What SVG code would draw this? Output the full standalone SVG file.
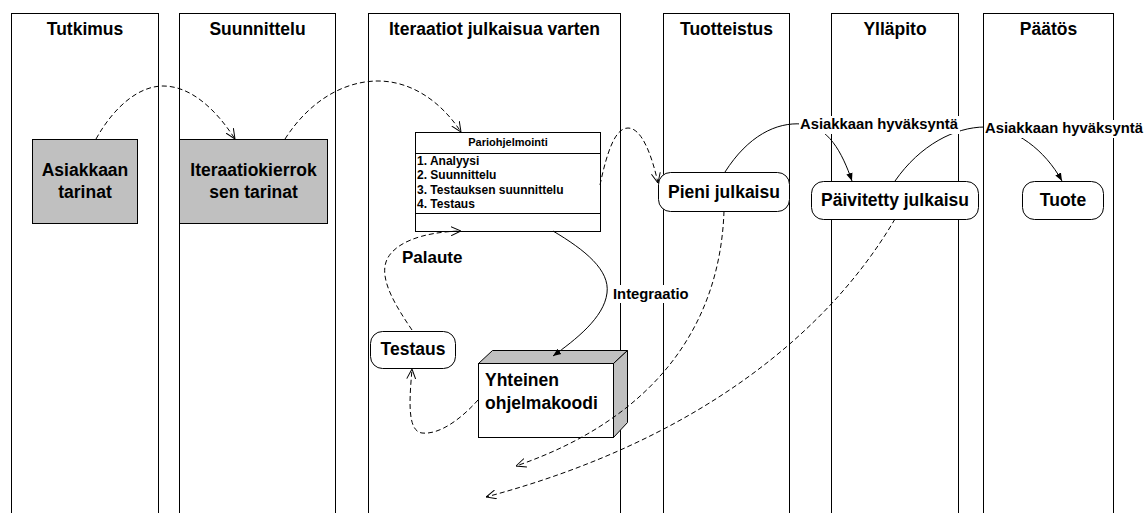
<svg xmlns="http://www.w3.org/2000/svg" width="1145" height="513" viewBox="0 0 1145 513">
  <style>
    text { font-family: "Liberation Sans", Arial, sans-serif; font-weight: bold; fill: #000; }
    .lane { fill: #fff; stroke: #000; stroke-width: 1; }
    .hdr { font-size: 17.5px; text-anchor: middle; }
    .node { font-size: 17.5px; text-anchor: middle; }
    .left { text-anchor: start; }
    .box { stroke: #000; stroke-width: 1; }
    .gray { fill: #c0c0c0; }
    .white { fill: #fff; }
    .dash { fill: none; stroke: #000; stroke-width: 1; stroke-dasharray: 5 3; marker-end: url(#open); }
    .solid { fill: none; stroke: #000; stroke-width: 1; marker-end: url(#filled); }
    .lbl { font-size: 14.8px; }
    .lblbg { fill: #fff; stroke: none; }
    .item { font-size: 12px; }
    .title { font-size: 11px; text-anchor: middle; }
  </style>
  <defs>
    <marker id="open" viewBox="0 0 10 10" refX="10" refY="5" markerWidth="10" markerHeight="10" markerUnits="userSpaceOnUse" orient="auto">
      <path d="M0,0.5 L10,5 L0,9.5" fill="none" stroke="#000" stroke-width="1"/>
    </marker>
    <marker id="filled" viewBox="0 0 8 8" refX="8" refY="4" markerWidth="8" markerHeight="8" markerUnits="userSpaceOnUse" orient="auto">
      <path d="M0,0.8 L8,4 L0,7.2 Z" fill="#000" stroke="none"/>
    </marker>
  </defs>

  <!-- swimlanes (open at the bottom edge) -->
  <g id="lanes">
    <rect class="lane" x="11.5" y="13.5" width="147" height="520"/>
    <rect class="lane" x="179.5" y="13.5" width="156" height="520"/>
    <rect class="lane" x="368.5" y="13.5" width="252" height="520"/>
    <rect class="lane" x="663.5" y="13.5" width="126" height="520"/>
    <rect class="lane" x="831.5" y="13.5" width="127" height="520"/>
    <rect class="lane" x="983.5" y="13.5" width="130" height="520"/>
    <text class="hdr" x="85" y="35">Tutkimus</text>
    <text class="hdr" x="257.5" y="35">Suunnittelu</text>
    <text class="hdr" x="494.5" y="35">Iteraatiot julkaisua varten</text>
    <text class="hdr" x="726.5" y="35">Tuotteistus</text>
    <text class="hdr" x="895" y="35">Ylläpito</text>
    <text class="hdr" x="1048.5" y="35">Päätös</text>
  </g>

  <!-- nodes -->
  <g id="asiakkaan-tarinat">
    <rect class="box gray" x="32.5" y="139.5" width="105" height="84"/>
    <text class="node" x="85" y="176">Asiakkaan</text>
    <text class="node" x="85" y="198">tarinat</text>
  </g>
  <g id="iteraatiokierroksen-tarinat">
    <rect class="box gray" x="179.5" y="139.5" width="148" height="84"/>
    <text class="node" x="253.5" y="176">Iteraatiokierrok</text>
    <text class="node" x="253.5" y="198">sen tarinat</text>
  </g>
  <g id="pariohjelmointi">
    <rect class="box white" x="415.5" y="132.5" width="185" height="99"/>
    <line class="box" x1="415.5" y1="153.5" x2="600.5" y2="153.5"/>
    <line class="box" x1="415.5" y1="213.5" x2="600.5" y2="213.5"/>
    <text class="title" x="508" y="146">Pariohjelmointi</text>
    <text class="item" x="417" y="164.5">1. Analyysi</text>
    <text class="item" x="417" y="179">2. Suunnittelu</text>
    <text class="item" x="417" y="193.5">3. Testauksen suunnittelu</text>
    <text class="item" x="417" y="208">4. Testaus</text>
  </g>
  <g id="pieni-julkaisu">
    <rect class="box white" x="658.5" y="172.5" width="131" height="39" rx="12" ry="12"/>
    <text class="node" x="724" y="197.5">Pieni julkaisu</text>
  </g>
  <g id="paivitetty-julkaisu">
    <rect class="box white" x="811.5" y="181.5" width="167" height="38" rx="12" ry="12"/>
    <text class="node" x="895" y="206">Päivitetty julkaisu</text>
  </g>
  <g id="tuote">
    <rect class="box white" x="1022.5" y="181.5" width="81" height="38" rx="12" ry="12"/>
    <text class="node" x="1063" y="206">Tuote</text>
  </g>
  <g id="testaus">
    <rect class="box white" x="370.5" y="331.5" width="85" height="37" rx="12" ry="12"/>
    <text class="node" x="413" y="355">Testaus</text>
  </g>
  <g id="yhteinen-ohjelmakoodi">
    <polygon class="box gray" points="478.5,363.5 492.5,350.5 627.5,350.5 613.5,363.5"/>
    <polygon class="box gray" points="613.5,363.5 627.5,350.5 627.5,422.5 613.5,437.5"/>
    <rect class="box white" x="478.5" y="363.5" width="135" height="74"/>
    <text class="node left" x="485" y="386">Yhteinen</text>
    <text class="node left" x="485" y="408.5">ohjelmakoodi</text>
  </g>

  <!-- connectors -->
  <g id="connectors">
    <path class="dash" d="M96,139 C115,105 140,86 163,86 C190,86 215,108 235,139"/>
    <path class="dash" d="M285,139 C310,100 345,81 378,81 C410,81 440,100 461,132"/>
    <path class="dash" d="M600,185 C607,152 615,128 628,128 C642,128 652,156 658,183"/>
    <path class="solid" d="M725,172 C748,136 776,122 802,124 C828,126 842,152 852,181"/>
    <path class="solid" d="M895,181 C920,145 955,127 985,127 C1015,127 1045,150 1062,181"/>
    <path class="dash" d="M412,330 C395,305 380,280 386,262 C392,244 420,232 461,231"/>
    <path class="solid" d="M553,231 C585,250 610,270 607,293 C604,318 575,340 553,356"/>
    <path class="dash" d="M478,400 C462,418 440,435 422,433 C406,431 410,395 412,369"/>
    <path class="dash" d="M724,211 C720,330 650,420 516,466"/>
    <path class="dash" d="M895,219 C830,330 700,440 486,497"/>

    <rect class="lblbg" x="799" y="116" width="161" height="18"/>
    <text class="lbl" x="800" y="129">Asiakkaan hyväksyntä</text>
    <rect class="lblbg" x="984" y="120" width="161" height="18"/>
    <text class="lbl" x="985" y="133">Asiakkaan hyväksyntä</text>
    <rect class="lblbg" x="612" y="285" width="79" height="18"/>
    <text class="lbl" x="613" y="299">Integraatio</text>
    <text class="node left" x="402" y="263" style="font-size:17px">Palaute</text>
  </g>
</svg>
